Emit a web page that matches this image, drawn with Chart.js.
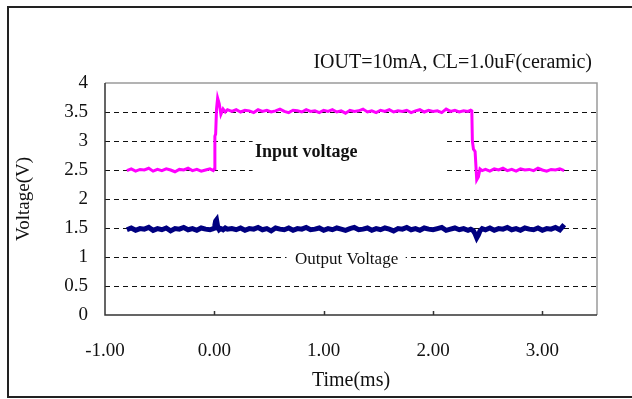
<!DOCTYPE html>
<html>
<head>
<meta charset="utf-8">
<script src="https://cdn.jsdelivr.net/npm/chart.js@4/dist/chart.umd.min.js"></script>
<style>
  html, body { margin: 0; padding: 0; background: #fff; }
</style>
</head>
<body>
<canvas id="chart" width="632" height="399"></canvas>
<script>
// sample times (ms), shared by both traces
const timeMs = [
  -0.80, -0.76, -0.72, -0.68, -0.64, -0.60, -0.56, -0.52, -0.48, -0.44,
  -0.40, -0.36, -0.32, -0.28, -0.24, -0.20, -0.16, -0.12, -0.08, -0.04,
  -0.01, 0.00, 0.005, 0.012, 0.02, 0.03, 0.045, 0.06, 0.08, 0.10, 0.12,
  0.16, 0.20, 0.24, 0.28, 0.32, 0.36, 0.40, 0.44, 0.48, 0.52,
  0.56, 0.60, 0.64, 0.68, 0.72, 0.76, 0.80, 0.84, 0.88, 0.92,
  0.96, 1.00, 1.04, 1.08, 1.12, 1.16, 1.20, 1.24, 1.28, 1.32,
  1.36, 1.40, 1.44, 1.48, 1.52, 1.56, 1.60, 1.64, 1.68, 1.72,
  1.76, 1.80, 1.84, 1.88, 1.92, 1.96, 2.00, 2.04, 2.08, 2.12,
  2.16, 2.20, 2.24, 2.28, 2.32,
  2.345, 2.355, 2.36, 2.37, 2.385, 2.40, 2.415, 2.43, 2.45,
  2.48, 2.52, 2.56, 2.60, 2.64, 2.68, 2.72, 2.76, 2.80, 2.84,
  2.88, 2.92, 2.96, 3.00, 3.04, 3.08, 3.12, 3.16, 3.20
];

// input voltage: 2.5V -> 3.5V step at 0ms, back to 2.5V near 2.36ms
const inputVolt = [
  2.49, 2.52, 2.48, 2.51, 2.50, 2.53, 2.48, 2.51, 2.49, 2.52,
  2.50, 2.47, 2.51, 2.50, 2.53, 2.49, 2.51, 2.48, 2.50, 2.52,
  2.49, 2.52, 3.08, 3.12, 3.55, 3.74, 3.64, 3.46, 3.55, 3.50, 3.54,
  3.51, 3.54, 3.50, 3.53, 3.52, 3.49, 3.54, 3.51, 3.53, 3.50,
  3.52, 3.55, 3.51, 3.49, 3.53, 3.52, 3.50, 3.54, 3.51, 3.52,
  3.49, 3.53, 3.51, 3.54, 3.50, 3.52, 3.48, 3.53, 3.51, 3.52,
  3.55, 3.50, 3.52, 3.49, 3.53, 3.51, 3.54, 3.50, 3.52, 3.51,
  3.53, 3.49, 3.52, 3.54, 3.50, 3.53, 3.51, 3.52, 3.49, 3.55,
  3.51, 3.53, 3.50, 3.52, 3.51,
  3.53, 3.52, 3.00, 2.86, 2.82, 2.33, 2.38, 2.52, 2.49,
  2.51, 2.48, 2.52, 2.50, 2.53, 2.49, 2.51, 2.48, 2.52, 2.50,
  2.51, 2.49, 2.53, 2.50, 2.48, 2.51, 2.50, 2.52, 2.49
];

// output voltage: stays near 1.5V, small bump/dip on each input edge
const outputVolt = [
  1.47, 1.50, 1.46, 1.49, 1.48, 1.51, 1.46, 1.49, 1.47, 1.50,
  1.45, 1.49, 1.48, 1.51, 1.47, 1.49, 1.46, 1.50, 1.48, 1.47,
  1.49, 1.50, 1.55, 1.62, 1.64, 1.53, 1.47, 1.49, 1.47, 1.50, 1.48,
  1.49, 1.47, 1.50, 1.46, 1.49, 1.48, 1.51, 1.47, 1.49, 1.45,
  1.50, 1.48, 1.47, 1.50, 1.46, 1.49, 1.48, 1.51, 1.47, 1.48,
  1.50, 1.46, 1.49, 1.47, 1.50, 1.48, 1.46, 1.49, 1.51, 1.47,
  1.48, 1.50, 1.46, 1.49, 1.47, 1.50, 1.48, 1.45, 1.49, 1.48,
  1.51, 1.47, 1.49, 1.46, 1.50, 1.48, 1.47, 1.49, 1.51, 1.46,
  1.48, 1.50, 1.47, 1.49, 1.46,
  1.48, 1.47, 1.46, 1.45, 1.40, 1.33, 1.38, 1.45, 1.49,
  1.47, 1.50, 1.46, 1.49, 1.48, 1.51, 1.47, 1.49, 1.46, 1.50,
  1.48, 1.47, 1.50, 1.46, 1.49, 1.48, 1.51, 1.47, 1.56
];

const xTicks = [-1, 0, 1, 2, 3];
const titleText = 'IOUT=10mA, CL=1.0uF(ceramic)';
const serif = '"Liberation Serif", "Times New Roman", serif';

const toPoints = vals => timeMs.map((t, i) => ({ x: t, y: vals[i] }));

// in-plot labels (white box hides the dashed grid behind them)
const notes = [
  { text: 'Input voltage', x: 0.84, y: 2.81, bold: true, size: 18, box: [0.35, 3.33, 2.11, 2.26] },
  { text: 'Output Voltage', x: 1.21, y: 0.95, bold: false, size: 17, box: [0.66, 1.11, 1.75, 0.80] }
];

const decor = {
  id: 'decor',
  beforeDatasetsDraw(chart) {
    const { ctx, scales: { x, y } } = chart;
    ctx.save();
    notes.forEach(n => {
      const [x0, y0, x1, y1] = n.box;
      ctx.fillStyle = '#fff';
      ctx.fillRect(x.getPixelForValue(x0), y.getPixelForValue(y0),
        x.getPixelForValue(x1) - x.getPixelForValue(x0),
        y.getPixelForValue(y1) - y.getPixelForValue(y0));
      ctx.fillStyle = '#111';
      ctx.font = (n.bold ? 'bold ' : '') + n.size + 'px ' + serif;
      ctx.textAlign = 'center';
      ctx.textBaseline = 'middle';
      ctx.fillText(n.text, x.getPixelForValue(n.x), y.getPixelForValue(n.y));
    });
    ctx.restore();
  },
  afterDatasetsDraw(chart) {
    const { ctx, chartArea: a, scales: { x } } = chart;
    ctx.save();
    // plot frame: gray top/right, dark axes left/bottom
    ctx.lineWidth = 1.5;
    ctx.strokeStyle = '#9a9a9a';
    ctx.beginPath();
    ctx.moveTo(a.left, a.top); ctx.lineTo(a.right, a.top); ctx.lineTo(a.right, a.bottom);
    ctx.stroke();
    ctx.strokeStyle = '#333';
    ctx.beginPath();
    ctx.moveTo(a.left, a.top); ctx.lineTo(a.left, a.bottom); ctx.lineTo(a.right, a.bottom);
    ctx.stroke();
    // short inward ticks on the time axis
    xTicks.slice(1).forEach(v => {
      const px = Math.round(x.getPixelForValue(v)) + 0.5;
      ctx.beginPath();
      ctx.moveTo(px, a.bottom); ctx.lineTo(px, a.bottom - 4);
      ctx.stroke();
    });
    // outer border of the figure
    ctx.strokeStyle = '#222';
    ctx.lineWidth = 2;
    ctx.beginPath();
    ctx.moveTo(632, 7); ctx.lineTo(8, 7); ctx.lineTo(8, 397); ctx.lineTo(632, 397);
    ctx.stroke();
    // condition text
    ctx.fillStyle = '#111';
    ctx.font = '20px ' + serif;
    ctx.textAlign = 'right';
    ctx.textBaseline = 'middle';
    ctx.fillText(titleText, 592, 63);
    ctx.restore();
  }
};

new Chart(document.getElementById('chart'), {
  type: 'line',
  data: {
    datasets: [
      { label: 'Input voltage', data: toPoints(inputVolt), borderColor: '#ff00ff', borderWidth: 3 },
      { label: 'Output Voltage', data: toPoints(outputVolt), borderColor: '#000080', borderWidth: 5 }
    ]
  },
  options: {
    responsive: false,
    animation: false,
    events: [],
    devicePixelRatio: 1,
    layout: { padding: { left: 10, top: 83, right: 35, bottom: 0 } },
    elements: { point: { radius: 0 }, line: { tension: 0 } },
    plugins: { legend: { display: false }, tooltip: { enabled: false } },
    scales: {
      x: {
        type: 'linear',
        min: -1, max: 3.5,
        afterFit: s => { s.height = 84; },
        border: { display: false },
        grid: { display: false, drawTicks: false },
        ticks: {
          stepSize: 1,
          includeBounds: false,
          padding: 25,
          color: '#111',
          font: { family: serif, size: 19 },
          callback: v => v.toFixed(2)
        },
        title: {
          display: true, text: 'Time(ms)', color: '#111',
          font: { family: serif, size: 20 },
          padding: { top: 0, bottom: 6 }
        }
      },
      y: {
        min: 0, max: 4,
        afterFit: s => { s.width = 95; },
        border: { display: false, dash: [5, 4] },
        grid: {
          drawTicks: false,
          lineWidth: 1,
          color: c => (c.tick && (c.tick.value === 0 || c.tick.value === 4)) ? 'rgba(0,0,0,0)' : '#111'
        },
        ticks: {
          stepSize: 0.5,
          padding: 17,
          color: '#111',
          font: { family: serif, size: 19 },
          callback: v => String(v)
        },
        title: {
          display: true, text: 'Voltage(V)', color: '#111',
          font: { family: serif, size: 19 },
          padding: { top: 3, bottom: 0 }
        }
      }
    }
  },
  plugins: [decor]
});
</script>
</body>
</html>
